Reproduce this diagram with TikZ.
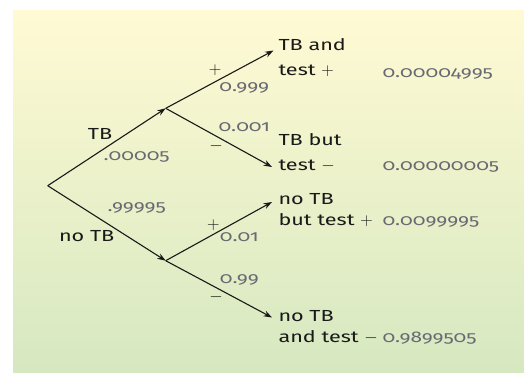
\documentclass[tikz,border=0pt]{standalone}
\usepackage{fontspec}
\setmainfont{Fira Sans}[FakeStretch=1.35, Numbers=OldStyle]
\usetikzlibrary{arrows.meta}
\definecolor{bgtop}{RGB}{255,250,212}
\definecolor{bgbot}{RGB}{214,232,192}
\definecolor{numgray}{RGB}{105,105,115}
\definecolor{ink}{RGB}{25,25,25}
\newcommand{\myplus}{\ensuremath{+}}
\newcommand{\myminus}{\ensuremath{-}}
\begin{document}
\begin{tikzpicture}[x=1pt,y=-1pt,
  br/.style={draw=ink, line width=1.1pt, -{Stealth[length=8.5pt,width=6pt]}},
  lbl/.style={font=\fontsize{16}{18}\selectfont, text=ink, inner sep=0pt, text height=11.5pt, text depth=3pt},
  num/.style={font=\fontsize{15.5}{17}\selectfont, text=numgray, inner sep=0pt, text height=10.5pt, text depth=3pt},
  sgn/.style={font=\fontsize{18}{18}\selectfont, text=ink, inner sep=0pt}]
\useasboundingbox (0,0) rectangle (524,372);
\shade[top color=bgtop, bottom color=bgbot] (13,10) rectangle (524,372);
% tree points
\coordinate (root) at (47.7,185.7);
\coordinate (A) at (165.7,108.3);
\coordinate (B) at (165.7,260.7);
\coordinate (e1) at (273.5,50.5);
\coordinate (e2) at (272,167);
\coordinate (e3) at (272,202);
\coordinate (e4) at (272,317.5);
\draw[br] (root) -- (A);
\draw[br] (root) -- (B);
\draw[br] (A) -- (e1);
\draw[br] (A) -- (e2);
\draw[br] (B) -- (e3);
\draw[br] (B) -- (e4);
% branch labels
\node[lbl] (tb) at (100,135) {TB};
\node[num] (p1) at (136.7,156.5) {.00005};
\node[num] (p2) at (136.7,207.3) {.99995};
\node[lbl] (notb) at (86.7,237.7) {no TB};
\node[sgn] (s1) at (215,70) {\myplus};
\node[num] (q1) at (244.3,87.3) {0.999};
\node[num] (q2) at (244.3,127.7) {0.001};
\node[sgn] (s2) at (216,145.7) {\myminus};
\node[sgn] (s3) at (213.3,225) {\myplus};
\node[num] (q3) at (239.3,237.3) {0.01};
\node[num] (q4) at (239.3,279.3) {0.99};
\node[sgn] (s4) at (216,296.7) {\myminus};
% outcomes
\node[lbl, anchor=west] (o1a) at (278.3,46.7) {TB and};
\node[lbl, anchor=west] (o1b) at (278.3,71.7) {test \myplus};
\node[num, anchor=west] (r1) at (382.3,73.3) {0.00004995};
\node[lbl, anchor=west] (o2a) at (278.3,141.7) {TB but};
\node[lbl, anchor=west] (o2b) at (278.3,166.7) {test \myminus};
\node[num, anchor=west] (r2) at (382.3,166.7) {0.00000005};
\node[lbl, anchor=west] (o3a) at (278.3,200.7) {no TB};
\node[lbl, anchor=west] (o3b) at (278.3,221.7) {but test \myplus};
\node[num, anchor=west] (r3) at (382.3,221.7) {0.0099995};
\node[lbl, anchor=west] (o4a) at (278.3,317.3) {no TB};
\node[lbl, anchor=west] (o4b) at (278.3,338.3) {and test \myminus};
\node[num, anchor=west] (r4) at (382.3,338.3) {0.9899505};
\end{tikzpicture}
\end{document}
